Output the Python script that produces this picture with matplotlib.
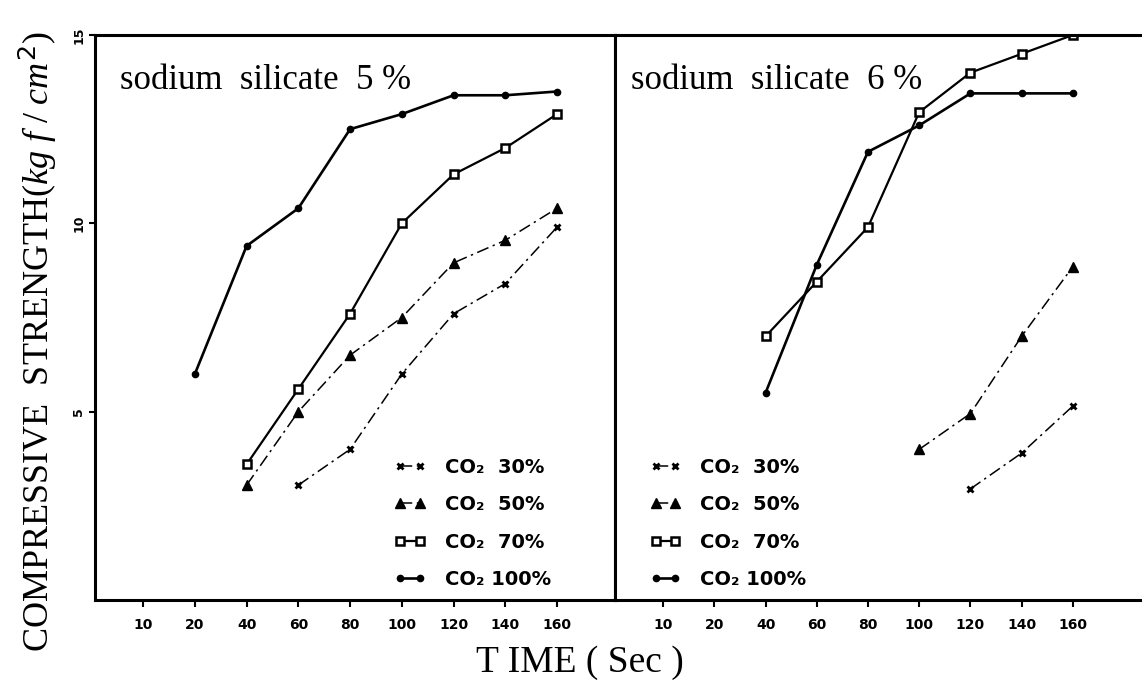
import matplotlib
matplotlib.use("Agg")
import matplotlib.pyplot as plt

plt.rcParams["mathtext.fontset"] = "custom"
plt.rcParams["mathtext.rm"] = "Liberation Serif"
plt.rcParams["mathtext.it"] = "Liberation Serif:italic"

# tick labels on the time axis (equally spaced, not to scale)
TIME_LABELS = [10, 20, 40, 60, 80, 100, 120, 140, 160]
SERIES_NAMES = ["CO₂  30%", "CO₂  50%", "CO₂  70%", "CO₂ 100%"]

# sodium silicate 5 %
t5_30 = [60, 80, 100, 120, 140, 160]
v5_30 = [3.05, 4.0, 6.0, 7.6, 8.4, 9.9]
t5_50 = [40, 60, 80, 100, 120, 140, 160]
v5_50 = [3.05, 5.0, 6.5, 7.5, 8.95, 9.55, 10.4]
t5_70 = [40, 60, 80, 100, 120, 140, 160]
v5_70 = [3.6, 5.6, 7.6, 10.0, 11.3, 12.0, 12.9]
t5_100 = [20, 40, 60, 80, 100, 120, 140, 160]
v5_100 = [6.0, 9.4, 10.4, 12.5, 12.9, 13.4, 13.4, 13.5]

# sodium silicate 6 %
t6_30 = [120, 140, 160]
v6_30 = [2.95, 3.9, 5.15]
t6_50 = [100, 120, 140, 160]
v6_50 = [4.0, 4.95, 7.0, 8.85]
t6_70 = [40, 60, 80, 100, 120, 140, 160]
v6_70 = [7.0, 8.45, 9.9, 12.95, 14.0, 14.5, 15.0]
t6_100 = [40, 60, 80, 100, 120, 140, 160]
v6_100 = [5.5, 8.9, 11.9, 12.6, 13.45, 13.45, 13.45]


def pos(times):
    return [TIME_LABELS.index(t) for t in times]


STYLES = [
    dict(marker="x", ms=5, mew=2.0, lw=1.1, ls=(0, (8, 3, 1.5, 3))),
    dict(marker="^", ms=6.5, lw=1.1, ls=(0, (8, 3, 1.5, 3))),
    dict(marker="s", ms=5.5, mfc="white", mew=1.8, lw=1.6, ls="-"),
    dict(marker="o", ms=4.5, lw=1.9, ls="-"),
]

fig = plt.figure(figsize=(11.42, 6.88), dpi=100)
W, H = 1142, 688
ax5 = fig.add_axes([95 / W, 88 / H, 520 / W, 565 / H])
ax6 = fig.add_axes([615 / W, 88 / H, 527 / W, 565 / H])

panels = [
    (ax5, [(t5_30, v5_30), (t5_50, v5_50), (t5_70, v5_70), (t5_100, v5_100)],
     "sodium  silicate  5 %", (-0.93, 9.12), 0.048, 0.55),
    (ax6, [(t6_30, v6_30), (t6_50, v6_50), (t6_70, v6_70), (t6_100, v6_100)],
     "sodium  silicate  6 %", (-0.94, 9.35), 0.03, 0.04),
]

for ax, series, title, xlim, tx, lx in panels:
    handles = []
    for (t, v), name, st in zip(series, SERIES_NAMES, STYLES):
        ln, = ax.plot(pos(t), v, color="black", label=name, **st)
        handles.append(ln)
    ax.set_xlim(*xlim)
    ax.set_ylim(0, 15)
    ax.set_xticks(range(len(TIME_LABELS)))
    ax.set_xticklabels([str(t) for t in TIME_LABELS], fontsize=10,
                       fontweight="bold", family="DejaVu Sans")
    ax.tick_params(axis="x", direction="out", length=5, width=1.5, pad=8)
    for sp in ax.spines.values():
        sp.set_linewidth(2.2)
    ax.text(tx, 0.905, title, transform=ax.transAxes, fontsize=25,
            family="Liberation Serif", ha="left", va="baseline")
    ax.legend(handles=handles, loc="lower left", bbox_to_anchor=(lx, -0.005),
              frameon=False, numpoints=2, handlelength=1.6,
              handletextpad=1.0, labelspacing=0.95, borderpad=0.2,
              prop=dict(family="DejaVu Sans", weight="bold", size=14))

ax5.set_yticks([5, 10, 15])
ax5.set_yticklabels(["5", "10", "15"], rotation=90, va="center",
                    fontsize=9, fontweight="bold")
ax5.tick_params(axis="y", direction="out", length=4, width=1.5, pad=3)
ax6.set_yticks([])
ax6.spines["right"].set_visible(False)

fig.text(38 / W, 1 - 342 / H,
         r"COMPRESSIVE  STRENGTH$(kg\ f\ /\ cm^{\mathsf{2}})$",
         rotation=90, ha="center", va="center", fontsize=26,
         family="Liberation Serif")
fig.text(580 / W, 1 - 663 / H, "T IME ( Sec )", ha="center", va="center",
         fontsize=27, family="Liberation Serif")

fig.savefig("out.png", dpi=100)
